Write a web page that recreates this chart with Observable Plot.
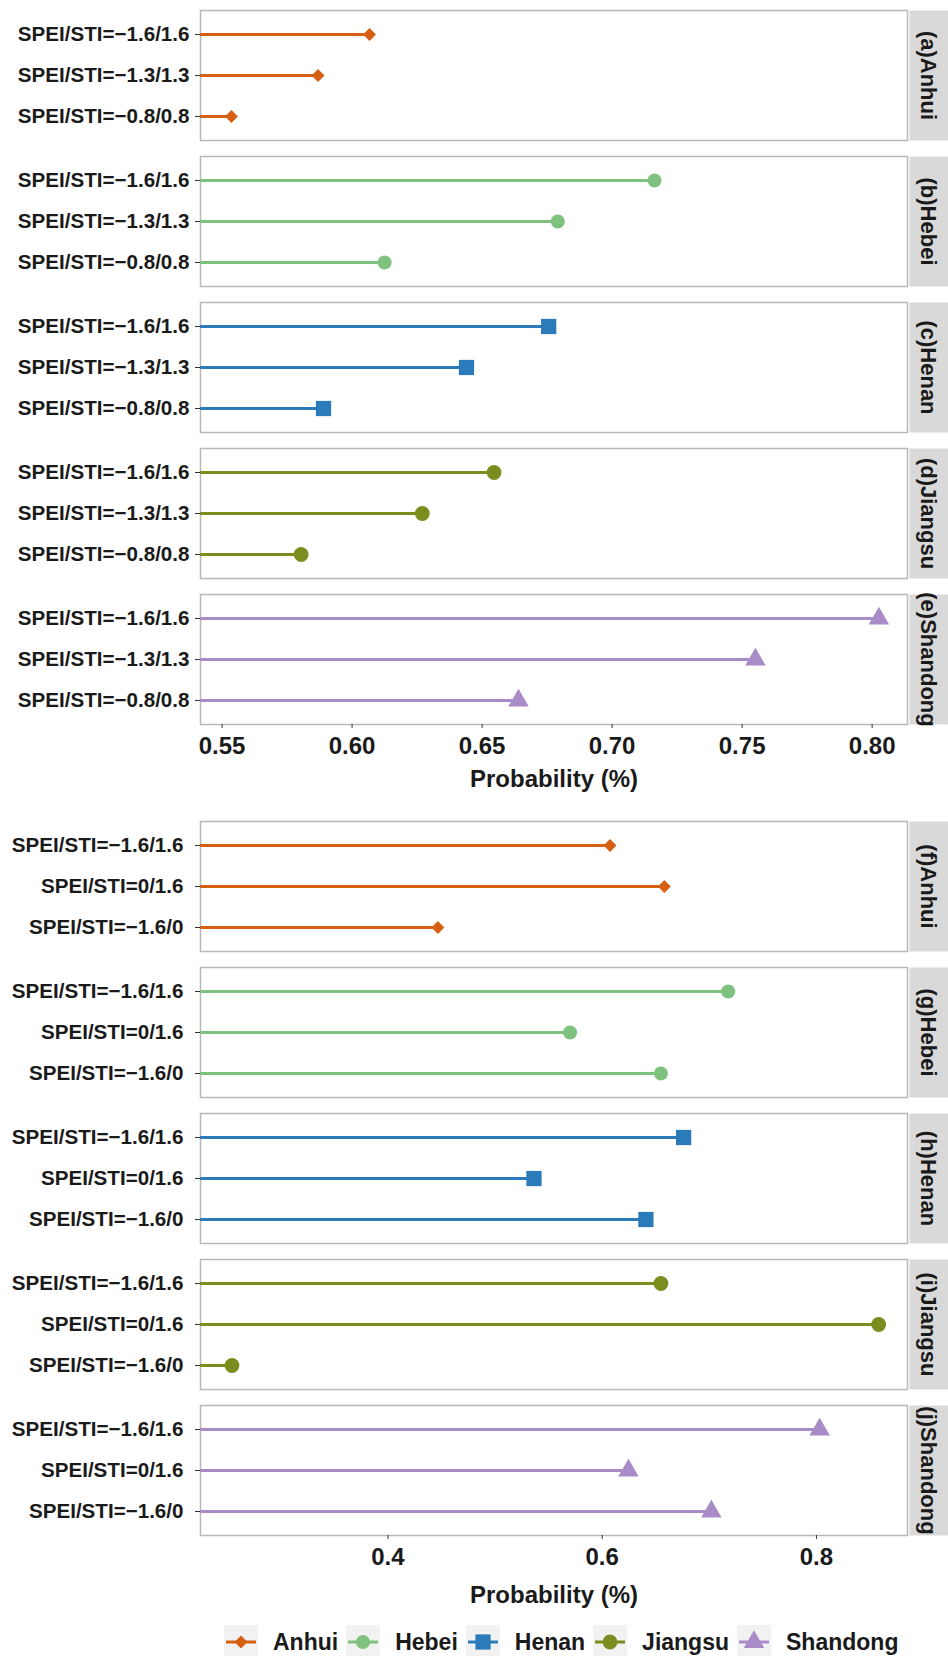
<!DOCTYPE html>
<html>
<head>
<meta charset="utf-8">
<script src="https://cdn.jsdelivr.net/npm/d3@7"></script>
<script src="https://cdn.jsdelivr.net/npm/@observablehq/plot@0.6"></script>
<style>
  body { margin: 0; background: #fff; font-family: "Liberation Sans", Arial, sans-serif; }
  svg { display: block; }
  #legend { display: flex; align-items: center; height: 34px; padding-left: 224px; font-weight: bold; font-size: 23px; color: #1a1a1a; }
  #legend .item { display: flex; align-items: center; margin-right: 8px; }
  #legend .item svg { margin-right: 15px; }
</style>
</head>
<body>
<div id="top"></div>
<div id="bottom"></div>
<div id="legend"></div>
<script>
// ---- categories ----
const provinces = ["Anhui", "Hebei", "Henan", "Jiangsu", "Shandong"];
const stripsTop = ["(a)Anhui", "(b)Hebei", "(c)Henan", "(d)Jiangsu", "(e)Shandong"];
const stripsBottom = ["(f)Anhui", "(g)Hebei", "(h)Henan", "(i)Jiangsu", "(j)Shandong"];
const condsTop = ["SPEI/STI=\u22121.6/1.6", "SPEI/STI=\u22121.3/1.3", "SPEI/STI=\u22120.8/0.8"];
const condsBottom = ["SPEI/STI=\u22121.6/1.6", "SPEI/STI=0/1.6", "SPEI/STI=\u22121.6/0"];

// ---- series values (top chart, in order of condsTop) ----
const anhuiTop    = [0.6067, 0.5869, 0.5536];
const hebeiTop    = [0.7163, 0.6791, 0.6125];
const henanTop    = [0.6756, 0.6440, 0.5890];
const jiangsuTop  = [0.6546, 0.6270, 0.5804];
const shandongTop = [0.8026, 0.7551, 0.6640];

// ---- series values (bottom chart, in order of condsBottom) ----
const anhuiBottom    = [0.6073, 0.6580, 0.4466];
const hebeiBottom    = [0.7176, 0.5700, 0.6548];
const henanBottom    = [0.6760, 0.5363, 0.6408];
const jiangsuBottom  = [0.6548, 0.8581, 0.2544];
const shandongBottom = [0.8030, 0.6245, 0.7019];

// ---- tick labels ----
const ticksTop = [0.55, 0.60, 0.65, 0.70, 0.75, 0.80];
const ticksBottom = [0.4, 0.6, 0.8];
const xTitle = "Probability (%)";

// ---- styles ----
const colors = ["#d65f12", "#7fc27f", "#2b7bba", "#7c8c1f", "#a98bc7"];
const symbols = ["diamond2", "circle", "square", "circle", "triangle"];
const radii = [5.8, 7, 8.6, 7.4, 7.6];

function makeChart(conds, strips, series, xDomain, ticks, fmt, height, marginTop, labelOffset, yPad) {
  const rows = provinces.flatMap((p, i) => conds.map((c, j) => ({province: p, cond: c, value: series[i][j]})));
  const stripRows = provinces.map((p, i) => ({province: p, strip: strips[i]}));
  const marginLeft = 200, marginRight = 41;
  const panelW = 948 - marginLeft - marginRight;
  return Plot.plot({
    width: 948,
    height,
    marginLeft,
    marginRight,
    marginTop,
    marginBottom: height - marginTop - 714,
    style: {fontFamily: "'Liberation Sans', Arial, sans-serif", color: "#1a1a1a", background: "#fff"},
    x: {domain: xDomain},
    y: {type: "point", domain: conds, padding: 0.56},
    fy: {domain: provinces, paddingInner: 0.11, paddingOuter: 0, axis: null},
    color: {domain: provinces, range: colors},
    marks: [
      Plot.frame({fill: "#d9d9d9", insetLeft: panelW + 2, insetRight: -marginRight}),
      Plot.frame({fill: "#fff", stroke: "#b8b8b8", strokeWidth: 1.5}),
      Plot.text(stripRows, {fy: "province", text: "strip", frameAnchor: "right", textAnchor: "middle", lineAnchor: "middle",
        dx: 21, rotate: 90, fontSize: 22, fontWeight: "bold", fill: "#1a1a1a"}),
      Plot.ruleY(rows, {fy: "province", y: "cond", x1: () => xDomain[0], x2: "value", stroke: "province", strokeWidth: 3}),
      ...provinces.map((p, i) => Plot.dot(rows.filter(d => d.province === p), {
        fy: "province", y: "cond", x: "value", fill: colors[i], symbol: symbols[i], r: radii[i]
      })),
      Plot.axisY({tickSize: 5, tickPadding: yPad, fontSize: 20.6, fontWeight: "bold", label: null, stroke: "#333"}),
      Plot.axisX({ticks, tickFormat: fmt, tickSize: 4, tickPadding: 8, fontSize: 24, fontWeight: "bold",
        stroke: "#333", label: xTitle, labelAnchor: "center", labelOffset, labelArrow: "none"})
    ]
  });
}

document.getElementById("top").append(makeChart(
  condsTop, stripsTop, [anhuiTop, hebeiTop, henanTop, jiangsuTop, shandongTop],
  [0.5417, 0.8136], ticksTop, d3.format(".2f"), 800, 10, 62, 6));

document.getElementById("bottom").append(makeChart(
  condsBottom, stripsBottom, [anhuiBottom, hebeiBottom, henanBottom, jiangsuBottom, shandongBottom],
  [0.225, 0.885], ticksBottom, d3.format(".1f"), 825, 21, 67, 12));

// ---- legend ----
const symbolTypes = {diamond2: d3.symbolDiamond2, circle: d3.symbolCircle, square: d3.symbolSquare, triangle: d3.symbolTriangle};
const legend = d3.select("#legend");
provinces.forEach((p, i) => {
  const item = legend.append("div").attr("class", "item");
  const s = item.append("svg").attr("width", 34).attr("height", 34);
  s.append("rect").attr("width", 34).attr("height", 34).attr("fill", "#f2f2f2");
  s.append("line").attr("x1", 2).attr("x2", 32).attr("y1", 17).attr("y2", 17).attr("stroke", colors[i]).attr("stroke-width", 3);
  s.append("path").attr("transform", "translate(17,17)")
    .attr("d", d3.symbol(symbolTypes[symbols[i]], Math.PI * radii[i] * radii[i])())
    .attr("fill", colors[i]);
  item.append("span").text(p);
});
</script>
</body>
</html>
